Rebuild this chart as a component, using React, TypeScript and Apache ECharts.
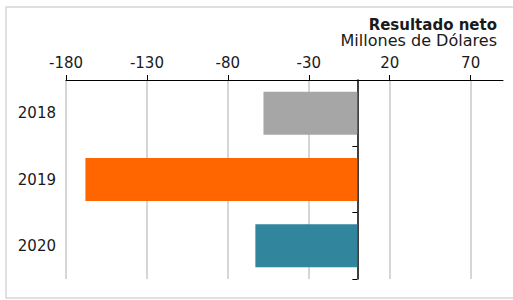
import React, { useEffect, useRef } from "react";
import * as echarts from "echarts";

const categories = ["2018", "2019", "2020"];
const values = [-58, -168, -63];
const barColors = ["#a6a6a6", "#ff6600", "#31859c"];
const titleText = "Resultado neto";
const subtitleText = "Millones de Dólares";
const xMin = -180;
const xMax = 90;
const xStep = 50;

export default function App() {
  const ref = useRef<HTMLDivElement>(null);
  useEffect(() => {
    if (!ref.current) return;
    const chart = echarts.init(ref.current, null, { renderer: "svg" });
    const font = "'DejaVu Sans', Verdana, sans-serif";
    chart.setOption({
      animation: false,
      textStyle: { fontFamily: font },
      grid: { left: 66, right: 10, top: 80, bottom: 21, containLabel: false },
      graphic: [
        {
          type: "rect",
          shape: { x: 6, y: 7, width: 512, height: 291 },
          style: { fill: "none", stroke: "#d6d6d6", lineWidth: 1.5 },
          silent: true,
        },
        {
          type: "text",
          x: 497,
          y: 25,
          style: {
            text: titleText,
            fontFamily: font,
            fontSize: 15,
            fontWeight: "bold",
            fill: "#1a1a1a",
            align: "right",
            verticalAlign: "middle",
          },
        },
        {
          type: "text",
          x: 497,
          y: 41,
          scaleX: 1.07,
          style: {
            text: subtitleText,
            fontFamily: font,
            fontSize: 15,
            fill: "#1a1a1a",
            align: "right",
            verticalAlign: "middle",
          },
        },
      ],
      xAxis: {
        type: "value",
        position: "top",
        min: xMin,
        max: xMax,
        interval: xStep,
        axisLine: { show: true, onZero: false, lineStyle: { color: "#000", width: 1 } },
        axisTick: { show: true, length: 5, lineStyle: { color: "#000" } },
        axisLabel: {
          color: "#1a1a1a",
          fontSize: 15,
          margin: 10,
          showMaxLabel: false,
          fontFamily: font,
        },
        splitLine: {
          show: true,
          showMaxLine: false,
          lineStyle: { color: "#c8c8c8", width: 1.5 },
        },
      },
      yAxis: [
        {
          type: "category",
          data: categories,
          inverse: true,
          position: "left",
          axisLine: { show: false, onZero: false },
          axisTick: { show: false },
          axisLabel: { color: "#1a1a1a", fontSize: 15, margin: 10, fontFamily: font },
          splitLine: { show: false },
        },
        {
          type: "value",
          min: 0,
          max: 3,
          interval: 0.5,
          inverse: true,
          position: "left",
          axisLine: { show: true, onZero: true, lineStyle: { color: "#000", width: 1.5 } },
          axisTick: { show: true, length: 5, lineStyle: { color: "#000" } },
          axisLabel: { show: false },
          splitLine: { show: false },
        },
      ],
      series: [
        {
          type: "bar",
          yAxisIndex: 0,
          barWidth: 43,
          data: values.map((v, i) => ({ value: v, itemStyle: { color: barColors[i] } })),
        },
      ],
    });
    return () => chart.dispose();
  }, []);
  return (
    <div
      ref={ref}
      style={{ position: "absolute", left: 0, top: 0, width: 513, height: 300 }}
    />
  );
}
